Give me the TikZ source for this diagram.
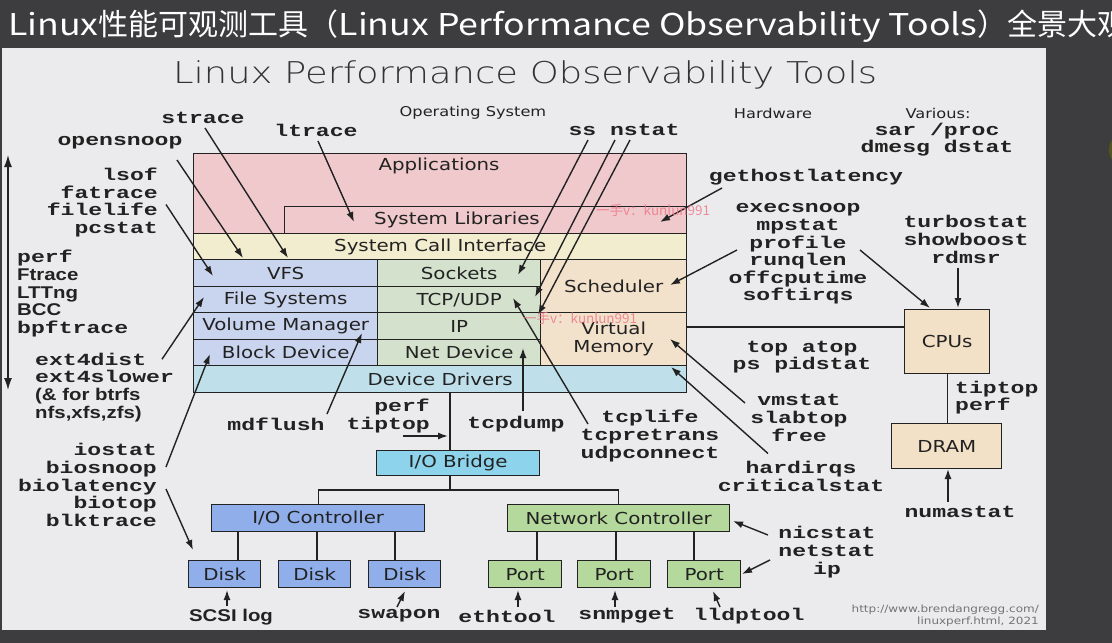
\documentclass[tikz,border=0pt]{standalone}
\usepackage{fontspec}
\usepackage{xcolor}
\usepackage{tikz}
\usetikzlibrary{shapes,arrows,arrows.meta,positioning,calc}
\setmainfont{DejaVu Sans}
\newfontfamily\boxfont[FakeStretch=1.2]{DejaVu Sans}
\newfontfamily\thinfont[FakeStretch=1.23]{DejaVu Sans ExtraLight}
\newfontfamily\toolfont[FakeStretch=1.36]{Liberation Mono}
\newfontfamily\toolsans[FakeStretch=1.2]{Liberation Sans}
\newfontfamily\cjkfont{Noto Sans CJK SC}
\newfontfamily\cjklatin[FakeStretch=1.19]{Noto Sans CJK SC}

\definecolor{darkbg}{HTML}{3D3D40}
\definecolor{panelbg}{HTML}{EBEBED}
\definecolor{appcol}{HTML}{EFC9CB}
\definecolor{syscol}{HTML}{F2EDCF}
\definecolor{fscol}{HTML}{C9D4EE}
\definecolor{netcol}{HTML}{D4E2CD}
\definecolor{schedcol}{HTML}{F3E2CB}
\definecolor{drvcol}{HTML}{BFE0EB}
\definecolor{bridgecol}{HTML}{8ED3EC}
\definecolor{iocol}{HTML}{8FAEEA}
\definecolor{niccol}{HTML}{B5D99D}
\definecolor{hwcol}{HTML}{F2E1C6}
\definecolor{inkcol}{HTML}{222222}
\definecolor{markcol}{HTML}{EE7A8C}
\definecolor{olive}{HTML}{55561F}

\tikzset{
  layer/.style={draw=inkcol, line width=1.4pt, inner sep=0pt, anchor=north west,
    font=\boxfont\fontsize{16.5}{18}\selectfont, text=inkcol},
  boxlbl/.style={font=\boxfont\fontsize{16.5}{18}\selectfont, text=inkcol, inner sep=0pt},
  hdr/.style={font=\boxfont\fontsize{13.5}{15}\selectfont, text=inkcol, inner sep=0pt},
  tool/.style={font=\toolfont\bfseries\fontsize{17}{17.6}\selectfont, text=inkcol, inner sep=2pt},
  toolsf/.style={font=\toolsans\bfseries\fontsize{17}{17.6}\selectfont, text=inkcol, inner sep=2pt},
  tarrow/.style={draw=inkcol, line width=1.4pt, -{Latex[length=10pt,width=7pt]}},
  wire/.style={draw=inkcol, line width=1.4pt},
  wmark/.style={font=\cjkfont\fontsize{13.5}{15}\selectfont, text=markcol, opacity=0.85, anchor=west, inner sep=0pt},
}

\begin{document}
\begin{tikzpicture}[x=1pt,y=-1pt]
  \useasboundingbox (0,0) rectangle (1112,643);
  % Screen and slide
  \fill[darkbg] (0,0) rectangle (1112,643);
  \fill[olive] (1128,150) circle (19);
  \fill[panelbg] (2,48) rectangle (1046,630);
  \node[font=\cjkfont\fontsize{30}{34}\selectfont, text=white, anchor=west, inner sep=0pt] (cntitle) at (8,26)
    {{\cjklatin Linux}性能可观测工具（{\cjklatin Linux Performance Observability Tools}）全景大观};
  \node[font=\thinfont\fontsize{30}{34}\selectfont, text=black!80] (title) at (525,75) {Linux Performance Observability Tools};
  \node[hdr] (oshdr) at (473,113) {Operating System};
  \node[hdr] (hwhdr) at (773,113) {Hardware};
  \node[hdr] (various) at (938,113) {Various:};

  % Operating system stack
  \node[layer, fill=appcol, minimum width=493, minimum height=80] (apps) at (193,153) {};
  \node[boxlbl] (appstxt) at (439,166) {Applications};
  \node[layer, fill=appcol, minimum width=402, minimum height=27] (syslib) at (284,206) {};
  \node[boxlbl] (syslibtxt) at (457,220) {System Libraries};
  \node[layer, fill=syscol, minimum width=493, minimum height=26] (syscall) at (193,233) {System Call Interface};
  \node[layer, fill=fscol, minimum width=184, minimum height=27] (vfs) at (193,259) {VFS};
  \node[layer, fill=fscol, minimum width=184, minimum height=26] (fs) at (193,286) {File Systems};
  \node[layer, fill=fscol, minimum width=184, minimum height=27] (vm) at (193,312) {Volume Manager};
  \node[layer, fill=fscol, minimum width=184, minimum height=26] (blk) at (193,339) {Block Device};
  \node[layer, fill=netcol, minimum width=163, minimum height=27] (sock) at (377,259) {Sockets};
  \node[layer, fill=netcol, minimum width=163, minimum height=26] (tcp) at (377,286) {TCP/UDP};
  \node[layer, fill=netcol, minimum width=163, minimum height=27] (ip) at (377,312) {IP};
  \node[layer, fill=netcol, minimum width=163, minimum height=26] (netdev) at (377,339) {Net Device};
  \node[layer, fill=schedcol, minimum width=146, minimum height=53] (sched) at (540,259) {Scheduler};
  \node[layer, fill=schedcol, minimum width=146, minimum height=53, align=center] (vmem) at (540,312) {Virtual\\Memory};
  \node[layer, fill=drvcol, minimum width=493, minimum height=27] (devdrv) at (193,365) {Device Drivers};

  % Hardware
  \node[layer, fill=bridgecol, minimum width=163, minimum height=25] (bridge) at (376,450) {I/O Bridge};
  \node[layer, fill=iocol, minimum width=213, minimum height=27] (ioctl) at (211,504) {I/O Controller};
  \node[layer, fill=niccol, minimum width=222, minimum height=27] (netctl) at (507,504) {Network Controller};
  \foreach \i/\x in {1/188,2/278,3/368}
    \node[layer, fill=iocol, minimum width=72, minimum height=27] (disk\i) at (\x,560) {Disk};
  \foreach \i/\x in {1/488,2/577,3/667}
    \node[layer, fill=niccol, minimum width=73, minimum height=27] (port\i) at (\x,560) {Port};
  \node[layer, fill=hwcol, minimum width=85, minimum height=64] (cpu) at (904,309) {CPUs};
  \node[layer, fill=hwcol, minimum width=110, minimum height=45] (dram) at (891,423) {DRAM};

  % Buses
  \coordinate (busx) at (450,0);
  \coordinate (fork) at (450,490);
  \coordinate (cpuy) at (0,327);
  \draw[wire] (devdrv.south -| busx) -- (bridge.north -| busx);
  \draw[wire] (bridge.south -| fork) -- (fork);
  \draw[wire] (ioctl.north) |- (fork) -| (netctl.north);
  \foreach \i/\x in {1/238,2/317,3/395} {
    \coordinate (ddrop\i) at (\x,0);
    \draw[wire] (ioctl.south -| ddrop\i) -- (disk\i.north -| ddrop\i);
  }
  \foreach \i/\x in {1/537,2/616,3/694} {
    \coordinate (pdrop\i) at (\x,0);
    \draw[wire] (netctl.south -| pdrop\i) -- (port\i.north -| pdrop\i);
  }
  \draw[wire] (vmem.east |- cpuy) -- (cpu.west |- cpuy);
  \draw[wire] (cpu.south) -- (cpu.south |- dram.north);

  % Tools
  \node[tool] (strace) at (203,118) {strace};
  \node[tool] (ltrace) at (316,130) {ltrace};
  \node[tool] (opensnoop) at (120,143) {opensnoop};
  \node[tool, align=right, anchor=east] (lsof) at (160,202.5) {lsof\\fatrace\\filelife\\pcstat};
  \node[tool, align=left, anchor=west] (tracers) at (15,293.6)
    {perf\\{\toolsans Ftrace}\\{\toolsans LTTng}\\{\toolsans BCC}\\bpftrace};
  \node[tool, align=left, anchor=west] (ext4) at (33,387.2)
    {ext4dist\\ext4slower\\{\toolsans(\& for btrfs}\\{\toolsans nfs,xfs,zfs)}};
  \node[tool, align=right, anchor=east] (bio) at (159,485) {iostat\\biosnoop\\biolatency\\biotop\\blktrace};
  \node[tool] (mdflush) at (276,424) {mdflush};
  \node[tool, align=right, anchor=east] (perftip) at (432,416) {perf\\tiptop};
  \node[tool] (tcpdump) at (516,424) {tcpdump};
  \node[tool, align=center] (tcpgrp) at (650,436) {tcplife\\tcpretrans\\udpconnect};
  \node[tool] (ssn) at (624,130) {ss nstat};
  \node[tool, align=center] (misc) at (937,139.5) {sar /proc\\dmesg dstat};
  \node[tool] (ghl) at (806,177) {gethostlatency};
  \node[tool, align=center] (execgrp) at (798,254) {execsnoop\\mpstat\\profile\\runqlen\\offcputime\\softirqs};
  \node[tool, align=center] (turbo) at (966,239.5) {turbostat\\showboost\\rdmsr};
  \node[tool, align=center] (topgrp) at (802,357) {top atop\\ps pidstat};
  \node[tool, align=center] (vmgrp) at (799,418) {vmstat\\slabtop\\free};
  \node[tool, align=center] (hirq) at (801,476.5) {hardirqs\\criticalstat};
  \node[tool, align=left, anchor=west] (hwperf) at (953,397.5) {tiptop\\perf};
  \node[tool] (numa) at (960,512) {numastat};
  \node[tool, align=center] (nicgrp) at (827,552) {nicstat\\netstat\\ip};
  \node[toolsf] (scsi) at (231,617) {SCSI log};
  \node[tool] (swapon) at (399,616) {swapon};
  \node[tool] (ethtool) at (507,616) {ethtool};
  \node[tool] (snmpget) at (627,616) {snmpget};
  \node[tool] (lldptool) at (749,616) {lldptool};

  % Tool arrows
  \coordinate (lvl-top) at (8,155);
  \coordinate (lvl-bot) at (8,390);
  \coordinate (bus-in) at (448,436);
  \draw[tarrow, {Latex[length=12pt,width=8pt]}-{Latex[length=12pt,width=8pt]}] (lvl-top) -- (lvl-bot);
  \draw[tarrow] ([shift={(2,10)}]strace.center) -- ([shift={(95,25)}]syscall.north west);
  \draw[tarrow] ([shift={(2,11)}]ltrace.center) -- ([shift={(70,16)}]syslib.north west);
  \draw[tarrow] ([shift={(57,17)}]opensnoop.center) -- ([shift={(50,25)}]syscall.north west);
  \draw[tarrow] ([shift={(6,2)}]lsof.east) -- ([shift={(20,17)}]vfs.north west);
  \draw[tarrow] ([shift={(129,-28)}]ext4.west) -- ([shift={(11,11)}]fs.north west);
  \draw[tarrow] ([shift={(7,-18)}]bio.east) -- ([shift={(17,15)}]blk.north west);
  \draw[tarrow] ([shift={(7,4)}]bio.east) -- ([shift={(5,-10)}]disk1.north west);
  \draw[tarrow] ([shift={(51,-10)}]mdflush.center) -- ([shift={(169,21)}]vm.north west);
  \draw[tarrow] ([shift={(-29,20)}]perftip.east) -- (bus-in);
  \draw[tarrow] ([shift={(7,-13)}]tcpdump.center) -- ([shift={(146,9)}]netdev.north west);
  \draw[tarrow] ([shift={(-62,-12)}]tcpgrp.center) -- ([shift={(136,12)}]tcp.north west);
  \draw[tarrow] ([shift={(-36,10)}]ssn.center) -- ([shift={(141,16)}]sock.north west);
  \draw[tarrow] ([shift={(-9,10)}]ssn.center) -- ([shift={(158,11)}]tcp.north west);
  \draw[tarrow] ([shift={(6,10)}]ssn.center) -- ([shift={(161,3)}]ip.north west);
  \draw[tarrow] ([shift={(-84,11)}]ghl.center) -- ([shift={(376,16)}]syslib.north west);
  \draw[tarrow] ([shift={(-61,-4)}]execgrp.center) -- ([shift={(130,26)}]sched.north west);
  \draw[tarrow] ([shift={(62,-4)}]execgrp.center) -- ([shift={(26,-1)}]cpu.north west);
  \draw[tarrow] ([shift={(-8,28)}]turbo.center) -- ([shift={(54,-1)}]cpu.north west);
  \draw[tarrow] ([shift={(-54,-15)}]vmgrp.center) -- ([shift={(130,27)}]vmem.north west);
  \draw[tarrow] ([shift={(-33,-23)}]hirq.center) -- ([shift={(478,2)}]devdrv.north west);
  \draw[tarrow] ([shift={(-12,-10)}]numa.center) -- ([shift={(57,46)}]dram.north west);
  \draw[tarrow] ([shift={(-59,-17)}]nicgrp.center) -- ([shift={(226,17)}]netctl.north west);
  \draw[tarrow] ([shift={(-57,8)}]nicgrp.center) -- ([shift={(75,14)}]port3.north west);
  \draw[tarrow] ([shift={(-4,-11)}]scsi.center) -- ([shift={(39,30)}]disk1.north west);
  \draw[tarrow] ([shift={(-2,-9)}]swapon.center) -- ([shift={(37,31)}]disk3.north west);
  \draw[tarrow] ([shift={(11,-9)}]ethtool.center) -- ([shift={(30,30)}]port1.north west);
  \draw[tarrow] ([shift={(-12,-9)}]snmpget.center) -- ([shift={(38,30)}]port2.north west);
  \draw[tarrow] ([shift={(-29,-9)}]lldptool.center) -- ([shift={(46,31)}]port3.north west);

  % Footer and marks
  \node[font=\boxfont\fontsize{10}{12}\selectfont, text=black!55, align=right, anchor=east, inner sep=0pt] (url) at (1039,616)
    {http://www.brendangregg.com/\\linuxperf.html, 2021};
  \node[wmark] (wm1) at (596,210) {一手v：kunlun991};
  \node[wmark] (wm2) at (523,318) {一手v：kunlun991};
\end{tikzpicture}
\end{document}
